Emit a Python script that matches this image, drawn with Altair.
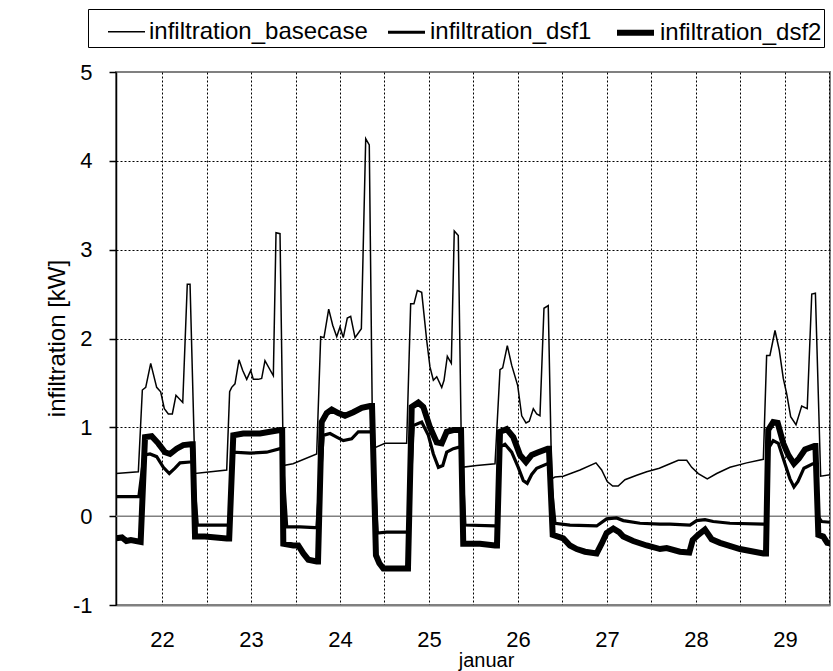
import altair as alt
import pandas as pd

series_names = ["infiltration_basecase", "infiltration_dsf1", "infiltration_dsf2"]

base_x = [21.483, 21.734, 21.779, 21.817, 21.873, 21.940, 21.985, 22.026, 22.071, 22.116,
          22.157, 22.233, 22.284, 22.315, 22.371, 22.727, 22.760, 22.783, 22.820, 22.865,
          22.907, 22.952, 22.997, 23.026, 23.082, 23.120, 23.157, 23.251, 23.281, 23.326,
          23.363, 23.472, 23.738, 23.783, 23.820, 23.873, 23.918, 23.963, 24.000, 24.037,
          24.082, 24.120, 24.169, 24.240, 24.289, 24.329, 24.367, 24.506, 24.749, 24.794,
          24.831, 24.869, 24.918, 24.974, 25.011, 25.049, 25.087, 25.143, 25.169, 25.206,
          25.251, 25.284, 25.329, 25.367, 25.536, 25.742, 25.798, 25.828, 25.880, 25.929,
          25.997, 26.042, 26.090, 26.127, 26.172, 26.210, 26.247, 26.292, 26.340, 26.379,
          26.416, 26.509, 26.697, 26.876, 26.940, 27.003, 27.064, 27.126, 27.202, 27.334,
          27.446, 27.588, 27.708, 27.801, 27.896, 27.952, 28.026, 28.127, 28.233, 28.382,
          28.570, 28.757, 28.794, 28.831, 28.888, 28.936, 28.981, 29.019, 29.064, 29.124,
          29.188, 29.250, 29.301, 29.342, 29.401, 29.525]
base_y = [0.48, 0.50, 1.42, 1.45, 1.72, 1.45, 1.40, 1.21, 1.15, 1.15,
          1.36, 1.28, 2.61, 2.61, 0.48, 0.52, 1.40, 1.45, 1.49, 1.76,
          1.64, 1.54, 1.64, 1.54, 1.54, 1.55, 1.75, 1.58, 3.19, 3.18,
          0.57, 0.59, 0.70, 2.02, 2.01, 2.33, 2.15, 2.02, 2.13, 2.01,
          2.23, 2.25, 2.01, 2.11, 4.25, 4.18, 0.76, 0.82, 0.82, 2.39,
          2.39, 2.54, 2.52, 1.98, 1.68, 1.53, 1.57, 1.45, 1.53, 1.80,
          1.72, 3.21, 3.16, 0.55, 0.57, 0.59, 1.65, 1.67, 1.92, 1.70,
          1.47, 1.13, 1.05, 1.07, 1.21, 1.15, 1.13, 2.34, 2.37, 0.42,
          0.44, 0.45, 0.52, 0.60, 0.52, 0.39, 0.34, 0.34, 0.41, 0.46,
          0.50, 0.54, 0.59, 0.63, 0.63, 0.55, 0.48, 0.42, 0.48, 0.55,
          0.60, 0.64, 1.81, 1.81, 2.09, 1.87, 1.55, 1.38, 1.12, 1.03,
          1.24, 1.21, 2.50, 2.51, 0.45, 0.47]

dsf1_x = [21.483, 21.740, 21.790, 21.809, 21.865, 21.940, 22.015, 22.082, 22.146, 22.202,
          22.315, 22.340, 22.397, 22.727, 22.760, 22.801, 22.989, 23.176, 23.326, 23.345,
          23.401, 23.551, 23.719, 23.740, 23.812, 23.888, 23.963, 24.037, 24.131, 24.206,
          24.337, 24.360, 24.419, 24.525, 24.730, 24.764, 24.824, 24.918, 24.993, 25.049,
          25.106, 25.155, 25.199, 25.273, 25.348, 25.360, 25.404, 25.742, 25.764, 25.798,
          25.854, 25.929, 26.003, 26.060, 26.104, 26.154, 26.210, 26.329, 26.348, 26.416,
          26.584, 26.884, 26.996, 27.108, 27.183, 27.371, 27.596, 27.708, 27.933, 28.008,
          28.101, 28.194, 28.382, 28.757, 28.787, 28.812, 28.868, 28.925, 29.000, 29.056,
          29.101, 29.146, 29.213, 29.312, 29.342, 29.375, 29.412, 29.525]
dsf1_y = [0.22, 0.22, 0.62, 0.69, 0.70, 0.67, 0.55, 0.48, 0.54, 0.60,
          0.61, 0.61, -0.10, -0.10, -0.10, 0.72, 0.71, 0.72, 0.76, 0.76,
          -0.12, -0.12, -0.13, -0.13, 0.91, 0.93, 0.89, 0.85, 0.87, 0.95,
          0.95, 0.95, -0.19, -0.18, -0.18, -0.18, 1.02, 1.06, 0.91, 0.70,
          0.55, 0.57, 0.72, 0.76, 0.78, 0.78, -0.10, -0.11, -0.11, 0.78,
          0.81, 0.72, 0.55, 0.40, 0.37, 0.47, 0.54, 0.59, 0.59, -0.08,
          -0.10, -0.11, -0.03, -0.02, -0.05, -0.08, -0.09, -0.09, -0.10, -0.05,
          -0.04, -0.06, -0.08, -0.09, -0.09, 0.76, 0.85, 0.82, 0.59, 0.42,
          0.33, 0.39, 0.54, 0.59, 0.59, -0.01, -0.06, -0.07]

dsf2_x = [21.483, 21.550, 21.600, 21.650, 21.760, 21.809, 21.884, 21.958, 22.034, 22.090,
          22.165, 22.239, 22.326, 22.345, 22.371, 22.483, 22.727, 22.755, 22.801, 22.913,
          23.101, 23.326, 23.350, 23.363, 23.475, 23.531, 23.588, 23.644, 23.738, 23.753,
          23.794, 23.851, 23.907, 23.981, 24.056, 24.149, 24.244, 24.337, 24.360, 24.404,
          24.442, 24.487, 24.749, 24.764, 24.806, 24.880, 24.936, 25.011, 25.087, 25.143,
          25.199, 25.273, 25.360, 25.385, 25.573, 25.742, 25.764, 25.798, 25.873, 25.947,
          26.022, 26.090, 26.154, 26.228, 26.334, 26.348, 26.390, 26.509, 26.584, 26.660,
          26.753, 26.884, 26.940, 26.996, 27.071, 27.137, 27.183, 27.295, 27.446, 27.596,
          27.671, 27.820, 27.925, 27.963, 28.026, 28.101, 28.176, 28.270, 28.494, 28.757,
          28.787, 28.812, 28.868, 28.918, 28.981, 29.037, 29.101, 29.157, 29.225, 29.331,
          29.342, 29.375, 29.430, 29.475, 29.525]
dsf2_y = [-0.25, -0.24, -0.28, -0.27, -0.29, 0.89, 0.90, 0.82, 0.72, 0.70,
          0.76, 0.80, 0.81, 0.81, -0.23, -0.23, -0.25, -0.25, 0.91, 0.93,
          0.93, 0.97, 0.97, -0.31, -0.33, -0.33, -0.42, -0.49, -0.51, -0.51,
          1.06, 1.16, 1.20, 1.16, 1.13, 1.17, 1.22, 1.24, 1.24, -0.44,
          -0.53, -0.59, -0.59, -0.59, 1.23, 1.28, 1.23, 1.00, 0.83, 0.82,
          0.95, 0.97, 0.97, -0.31, -0.31, -0.33, -0.33, 0.95, 0.98, 0.89,
          0.69, 0.61, 0.69, 0.72, 0.76, 0.76, -0.21, -0.25, -0.33, -0.37,
          -0.40, -0.42, -0.31, -0.19, -0.14, -0.18, -0.23, -0.28, -0.33, -0.37,
          -0.36, -0.40, -0.41, -0.27, -0.21, -0.15, -0.26, -0.30, -0.37, -0.42,
          -0.42, 0.97, 1.06, 1.05, 0.82, 0.69, 0.59, 0.65, 0.75, 0.79,
          0.79, -0.21, -0.23, -0.30, -0.31]

grid_days = [22, 22.5, 23, 23.5, 24, 24.5, 25, 25.5, 26, 26.5, 27, 27.5, 28, 28.5, 29, 29.5]
y_ticks = [-1, 0, 1, 2, 3, 4, 5]
zero_level = [0]

rows = []
for name, xs, ys in zip(series_names, [base_x, dsf1_x, dsf2_x], [base_y, dsf1_y, dsf2_y]):
    for i, (xv, yv) in enumerate(zip(xs, ys)):
        rows.append({"series": name, "day": xv, "value": yv, "order": i})
df = pd.DataFrame(rows)

FONT = "Liberation Sans"

x_enc = alt.X(
    "day:Q",
    scale=alt.Scale(domain=[21.483, 29.506], nice=False, zero=False),
    axis=alt.Axis(
        values=grid_days,
        labelExpr="datum.value % 1 == 0 ? format(datum.value, 'd') : ''",
        ticks=False, tickSize=0,
        grid=True, gridColor="#000000", gridDash=[2, 2], gridWidth=1,
        domainColor="#808080", domainWidth=2,
        labelFontSize=22, labelPadding=24, labelFlush=False, labelOverlap=False,
        title="januar", titleFontSize=20, titleX=370, titleY=61,
        titleAlign="center", titleBaseline="alphabetic",
    ),
)

y_axis = alt.Axis(
    values=y_ticks, labelExpr="'' + datum.value",
    tickSize=7, tickColor="black", tickWidth=1.5,
    domainColor="black", domainWidth=1.5,
    labelFontSize=22, labelPadding=17,
    grid=True, gridColor="#000000", gridDash=[2, 2], gridWidth=1,
    gridOpacity={"condition": {"test": "datum.value == 0 || datum.value == 5 || datum.value == -1", "value": 0}, "value": 1},
    title="infiltration [kW]", titleFontSize=24, titleAngle=270,
    titleX=-52, titleY=266, titleAlign="center", titleBaseline="alphabetic",
)
y_scale = alt.Scale(domain=[-1, 5], nice=False, zero=False)

zero = alt.Chart(pd.DataFrame({"value": zero_level})).mark_rule(
    color="#808080", strokeWidth=1.5
).encode(y=alt.Y("value:Q", scale=y_scale, axis=y_axis))

lines = alt.Chart(df).mark_line(color="black", clip=True).encode(
    x=x_enc,
    y=alt.Y("value:Q", scale=y_scale, axis=y_axis),
    detail="series:N",
    order="order:Q",
    strokeWidth=alt.StrokeWidth(
        "series:N",
        scale=alt.Scale(type="ordinal", domain=series_names, range=[1.5, 3.2, 6]),
        legend=alt.Legend(
            orient="none", legendX=-28, legendY=-63, direction="horizontal",
            title="\u00a0", titleOrient="left", titleFontSize=1, titlePadding=17,
            symbolType="stroke", symbolSize=1369, symbolStrokeColor="black",
            labelFont=FONT, labelFontSize=24, labelColor="black", labelOffset=3,
            labelLimit=400, columnPadding=13, padding=2,
            strokeColor="black", fillColor="white",
        ),
    ),
)

chart = alt.layer(zero, lines).properties(
    width=714, height=533,
    autosize=alt.AutoSizeParams(type="none"),
    padding={"left": 116, "top": 72, "right": 3, "bottom": 66},
    background="white",
).configure_view(
    stroke="#808080", strokeWidth=2
).configure_axis(
    labelFont=FONT, titleFont=FONT, labelColor="black", titleColor="black",
    titleFontWeight="normal",
).configure_legend(
    titleFont=FONT,
)

chart.save("out.html", embed_options={"renderer": "svg", "actions": False})
